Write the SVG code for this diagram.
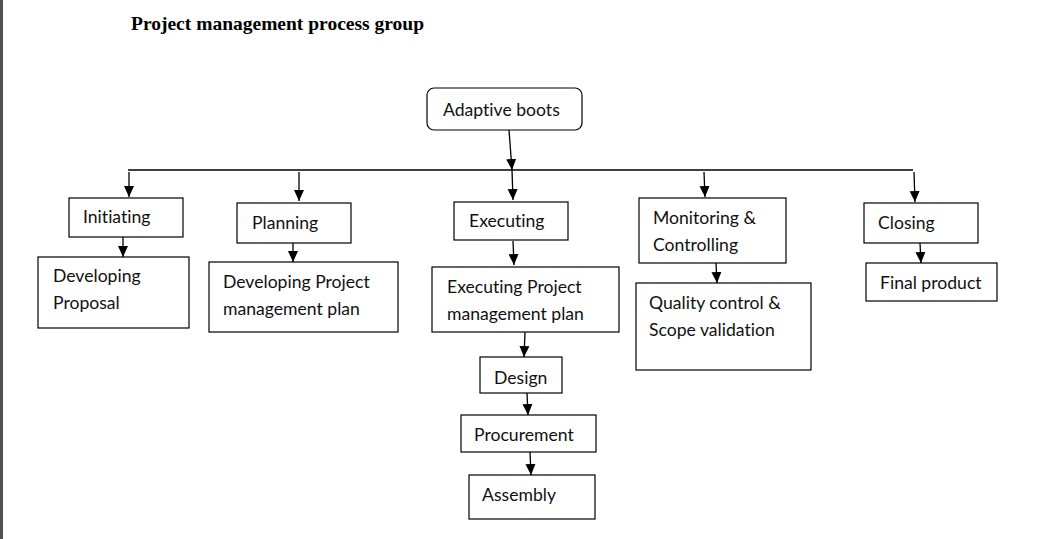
<svg xmlns="http://www.w3.org/2000/svg" width="1041" height="539" viewBox="0 0 1041 539">
  <style>
    .box { fill: #ffffff; stroke: #000000; stroke-width: 1.2; }
    .lbl { font-family: Lato, "Liberation Sans", sans-serif; font-size: 17.6px; fill: #111111; font-variant-ligatures: none; }
    .title { font-family: "Liberation Serif", serif; font-size: 19.5px; font-weight: bold; fill: #000000; }
    .conn { stroke: #000000; stroke-width: 1.3; fill: none; }
  </style>
  <defs>
    <marker id="arrow" markerUnits="userSpaceOnUse" markerWidth="12" markerHeight="12" viewBox="0 0 12 12" refX="11" refY="6" orient="auto">
      <path d="M0,1 L11,6 L0,11 Z" fill="#000000"/>
    </marker>
  </defs>
  <rect x="0" y="0" width="1041" height="539" fill="#ffffff"/>
  <rect x="0" y="0" width="3" height="539" fill="#525252"/>
  <text class="title" x="131" y="30">Project management process group</text>

  <g id="connectors">
    <line class="conn" x1="509" y1="130" x2="512" y2="170" marker-end="url(#arrow)"/>
    <line class="conn" x1="128" y1="170" x2="913" y2="170"/>
    <line class="conn" x1="129" y1="172" x2="129" y2="197" marker-end="url(#arrow)"/>
    <line class="conn" x1="299" y1="172" x2="299" y2="201" marker-end="url(#arrow)"/>
    <line class="conn" x1="512" y1="170" x2="513" y2="200" marker-end="url(#arrow)"/>
    <line class="conn" x1="704" y1="172" x2="705" y2="197" marker-end="url(#arrow)"/>
    <line class="conn" x1="914" y1="172" x2="915" y2="202" marker-end="url(#arrow)"/>
    <line class="conn" x1="123" y1="237" x2="123" y2="257" marker-end="url(#arrow)"/>
    <line class="conn" x1="293" y1="243" x2="293" y2="262" marker-end="url(#arrow)"/>
    <line class="conn" x1="513" y1="241" x2="514" y2="265" marker-end="url(#arrow)"/>
    <line class="conn" x1="525" y1="332" x2="524" y2="357" marker-end="url(#arrow)"/>
    <line class="conn" x1="527" y1="393" x2="528" y2="415" marker-end="url(#arrow)"/>
    <line class="conn" x1="530" y1="452" x2="531" y2="475" marker-end="url(#arrow)"/>
    <line class="conn" x1="716" y1="263" x2="717" y2="283" marker-end="url(#arrow)"/>
    <line class="conn" x1="920" y1="243" x2="921" y2="263" marker-end="url(#arrow)"/>
  </g>

  <g id="adaptive-boots">
    <rect class="box" x="427" y="88" width="155" height="42" rx="7" ry="7"/>
    <text class="lbl" x="443" y="116">Adaptive boots</text>
  </g>
  <g id="initiating">
    <rect class="box" x="69" y="198" width="114" height="39"/>
    <text class="lbl" x="83" y="223">Initiating</text>
  </g>
  <g id="developing-proposal">
    <rect class="box" x="38" y="257" width="151" height="71"/>
    <text class="lbl" x="53" y="282">Developing</text>
    <text class="lbl" x="53" y="309">Proposal</text>
  </g>
  <g id="planning">
    <rect class="box" x="237" y="203" width="114" height="40"/>
    <text class="lbl" x="252" y="229">Planning</text>
  </g>
  <g id="developing-plan">
    <rect class="box" x="209" y="262" width="189" height="70"/>
    <text class="lbl" x="223" y="288">Developing Project</text>
    <text class="lbl" x="223" y="315">management plan</text>
  </g>
  <g id="executing">
    <rect class="box" x="454" y="202" width="114" height="38"/>
    <text class="lbl" x="469" y="227">Executing</text>
  </g>
  <g id="executing-plan">
    <rect class="box" x="432" y="267" width="187" height="65"/>
    <text class="lbl" x="447" y="293">Executing Project</text>
    <text class="lbl" x="447" y="320">management plan</text>
  </g>
  <g id="design">
    <rect class="box" x="480" y="357" width="82" height="36"/>
    <text class="lbl" x="494" y="384">Design</text>
  </g>
  <g id="procurement">
    <rect class="box" x="461" y="415" width="135" height="37"/>
    <text class="lbl" x="474" y="441">Procurement</text>
  </g>
  <g id="assembly">
    <rect class="box" x="469" y="475" width="126" height="44"/>
    <text class="lbl" x="482" y="501">Assembly</text>
  </g>
  <g id="monitoring">
    <rect class="box" x="639" y="198" width="147" height="65"/>
    <text class="lbl" x="653" y="224">Monitoring &amp;</text>
    <text class="lbl" x="653" y="251">Controlling</text>
  </g>
  <g id="quality-control">
    <rect class="box" x="636" y="283" width="175" height="87"/>
    <text class="lbl" x="649" y="309">Quality control &amp;</text>
    <text class="lbl" x="649" y="336">Scope validation</text>
  </g>
  <g id="closing">
    <rect class="box" x="864" y="203" width="114" height="40"/>
    <text class="lbl" x="878" y="229">Closing</text>
  </g>
  <g id="final-product">
    <rect class="box" x="866" y="263" width="131" height="38"/>
    <text class="lbl" x="880" y="289">Final product</text>
  </g>
</svg>
